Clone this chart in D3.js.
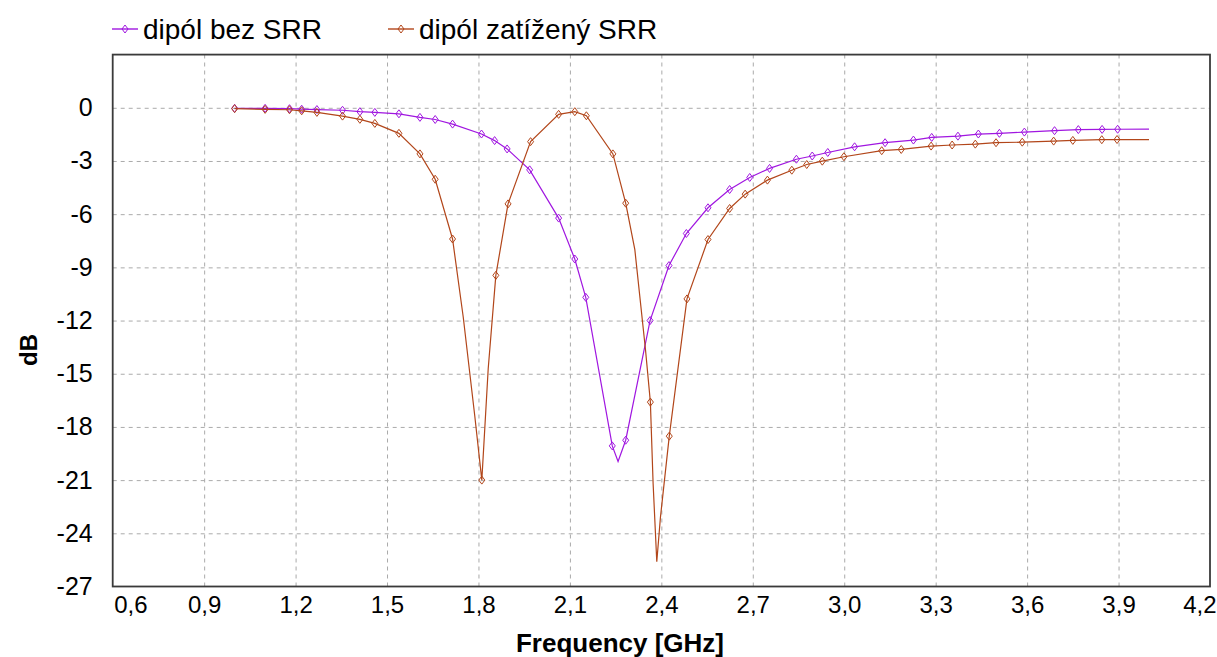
<!DOCTYPE html>
<html>
<head>
<meta charset="utf-8">
<script src="https://cdn.jsdelivr.net/npm/d3@7"></script>
<style>
  body { margin: 0; background: #fff; }
  svg { font-family: "Liberation Sans", Arial, sans-serif; }
</style>
</head>
<body>
<div id="chart"></div>
<script>
// series: dipól bez SRR
const freqBez = [1.00, 1.10, 1.18, 1.22, 1.27, 1.354, 1.411, 1.46, 1.539, 1.608, 1.658, 1.715,
    1.81, 1.853, 1.894, 1.968, 2.063, 2.116, 2.152, 2.239, 2.258, 2.283, 2.363, 2.425, 2.482,
    2.553, 2.624, 2.69, 2.755, 2.843, 2.895, 2.946, 3.034, 3.134, 3.227, 3.287, 3.373, 3.44,
    3.509, 3.591, 3.69, 3.768, 3.846, 3.897, 4.0];
const dbBez = [-0.03, -0.03, -0.05, -0.08, -0.10, -0.14, -0.22, -0.26, -0.34, -0.54, -0.66, -0.92,
    -1.48, -1.85, -2.32, -3.5, -6.22, -8.53, -10.69, -19.07, -19.95, -18.75, -12.0, -8.9, -7.09,
    -5.64, -4.61, -3.93, -3.42, -2.9, -2.72, -2.52, -2.2, -1.97, -1.82, -1.67, -1.6, -1.48,
    -1.44, -1.37, -1.29, -1.23, -1.22, -1.21, -1.2];
const markBez = [1, 1, 1, 1, 1, 1, 1, 1, 1, 1, 1, 1,
    1, 1, 1, 1, 1, 1, 1, 1, 0, 1, 1, 1, 1,
    1, 1, 1, 1, 1, 1, 1, 1, 1, 1, 1, 1, 1,
    1, 1, 1, 1, 1, 1, 0];

// series: dipól zatížený SRR
const freqSrr = [1.00, 1.10, 1.18, 1.22, 1.27, 1.354, 1.411, 1.46, 1.539, 1.608, 1.658, 1.715,
    1.75, 1.788, 1.811, 1.832, 1.857, 1.897, 1.971, 2.063, 2.116, 2.154, 2.241, 2.283, 2.313,
    2.348, 2.364, 2.373, 2.385, 2.397, 2.409, 2.426, 2.484, 2.553, 2.624, 2.675, 2.748, 2.828,
    2.877, 2.928, 2.999, 3.123, 3.187, 3.285, 3.354, 3.43, 3.498, 3.584, 3.687, 3.75, 3.845,
    3.895, 4.0];
const dbSrr = [-0.05, -0.09, -0.11, -0.17, -0.26, -0.47, -0.65, -0.88, -1.44, -2.6, -4.03, -7.4,
    -11.8, -17.4, -21.0, -14.7, -9.45, -5.42, -1.91, -0.37, -0.22, -0.45, -2.6, -5.38, -8.0,
    -13.65, -16.6, -21.2, -25.6, -23.1, -21.2, -18.52, -10.78, -7.43, -5.68, -4.87, -4.08, -3.52,
    -3.2, -3.01, -2.76, -2.42, -2.35, -2.16, -2.1, -2.05, -1.97, -1.94, -1.88, -1.84, -1.8,
    -1.79, -1.8];
const markSrr = [1, 1, 1, 1, 1, 1, 1, 1, 1, 1, 1, 1,
    0, 0, 1, 0, 1, 1, 1, 1, 1, 1, 1, 1, 0,
    0, 1, 0, 0, 0, 0, 1, 1, 1, 1, 1, 1, 1,
    1, 1, 1, 1, 1, 1, 1, 1, 1, 1, 1, 1, 1,
    1, 0];

const seriesNames = ['dipól bez SRR', 'dipól zatížený SRR'];
const seriesColors = ['#a016e0', '#b2461a'];
const xTicks = [0.6, 0.9, 1.2, 1.5, 1.8, 2.1, 2.4, 2.7, 3.0, 3.3, 3.6, 3.9, 4.2];
const yTicks = [0, -3, -6, -9, -12, -15, -18, -21, -24, -27];

const width = 1217;
const height = 657;
const plotLeft = 112.7, plotRight = 1210, plotTop = 54.6, plotBottom = 586.5;

const series = [
    { name: seriesNames[0], color: seriesColors[0],
      data: freqBez.map((f, i) => ({ f, db: dbBez[i], m: markBez[i] })) },
    { name: seriesNames[1], color: seriesColors[1],
      data: freqSrr.map((f, i) => ({ f, db: dbSrr[i], m: markSrr[i] })) }
];

const xScale = d3.scaleLinear().domain([0.6, 4.2]).range([plotLeft, plotRight]);
const yScale = d3.scaleLinear().domain([-27, 3]).range([plotBottom, plotTop]);

const svg = d3.select('#chart')
    .append('svg')
    .attr('width', width)
    .attr('height', height);

// grid
svg.append('g')
    .attr('transform', `translate(0, ${plotBottom})`)
    .call(d3.axisBottom(xScale).tickValues(xTicks.slice(1, -1)).tickSize(-(plotBottom - plotTop)).tickFormat(''))
    .call(g => g.select('.domain').remove())
    .selectAll('line')
    .attr('stroke', '#aaa')
    .attr('stroke-dasharray', '4,4');

svg.append('g')
    .attr('transform', `translate(${plotLeft}, 0)`)
    .call(d3.axisLeft(yScale).tickValues(yTicks.slice(0, -1)).tickSize(-(plotRight - plotLeft)).tickFormat(''))
    .call(g => g.select('.domain').remove())
    .selectAll('line')
    .attr('stroke', '#aaa')
    .attr('stroke-dasharray', '4,4');

// tick labels
const xLabels = svg.append('g')
    .attr('transform', `translate(0, ${plotBottom})`)
    .call(d3.axisBottom(xScale).tickValues(xTicks).tickSize(0).tickPadding(9)
        .tickFormat(d => d.toFixed(1).replace('.', ',')))
    .call(g => g.select('.domain').remove());
xLabels.selectAll('text')
    .attr('font-size', 24)
    .attr('font-family', '"Liberation Sans", Arial, sans-serif')
    .attr('fill', '#000');
// end labels kept inside the frame / picture
xLabels.selectAll('.tick').filter(d => d === 0.6).select('text')
    .attr('text-anchor', 'start')
    .attr('x', 1);
xLabels.selectAll('.tick').filter(d => d === 4.2).select('text')
    .attr('text-anchor', 'end')
    .attr('x', 6);

svg.append('g')
    .attr('transform', `translate(${plotLeft}, 0)`)
    .call(d3.axisLeft(yScale).tickValues(yTicks).tickSize(0).tickPadding(20)
        .tickFormat(d => String(d)))
    .call(g => g.select('.domain').remove())
    .selectAll('text')
    .attr('font-size', 25)
    .attr('font-family', '"Liberation Sans", Arial, sans-serif')
    .attr('fill', '#000');

// frame
svg.append('rect')
    .attr('x', plotLeft)
    .attr('y', plotTop)
    .attr('width', plotRight - plotLeft)
    .attr('height', plotBottom - plotTop)
    .attr('fill', 'none')
    .attr('stroke', '#3a3a3a')
    .attr('stroke-width', 1.8);

// axis titles
svg.append('text')
    .attr('x', 620)
    .attr('y', 652)
    .attr('text-anchor', 'middle')
    .attr('font-size', 26)
    .attr('font-weight', 'bold')
    .text('Frequency [GHz]');

svg.append('text')
    .attr('transform', 'translate(37, 350) rotate(-90)')
    .attr('text-anchor', 'middle')
    .attr('font-size', 24)
    .attr('font-weight', 'bold')
    .text('dB');

const diamond = 'M0,-4L3,0L0,4L-3,0Z';

const plotLine = d3.line()
    .x(d => xScale(d.f))
    .y(d => yScale(d.db));

series.forEach(s => {
    svg.append('path')
        .datum(s.data)
        .attr('fill', 'none')
        .attr('stroke', s.color)
        .attr('stroke-width', 1.2)
        .attr('d', plotLine);

    svg.append('g')
        .selectAll('path')
        .data(s.data.filter(d => d.m))
        .join('path')
        .attr('transform', d => `translate(${xScale(d.f)}, ${yScale(d.db)})`)
        .attr('d', diamond)
        .attr('fill', 'none')
        .attr('stroke', s.color)
        .attr('stroke-width', 1);
});

// legend
const legendX = [112, 388];
series.forEach((s, i) => {
    const g = svg.append('g').attr('transform', `translate(${legendX[i]}, 29)`);
    g.append('line')
        .attr('x1', 0).attr('x2', 26)
        .attr('stroke', s.color)
        .attr('stroke-width', 1.4);
    g.append('path')
        .attr('transform', 'translate(13, 0)')
        .attr('d', diamond)
        .attr('fill', 'none')
        .attr('stroke', s.color);
    g.append('text')
        .attr('x', 31)
        .attr('y', 10)
        .attr('font-size', 28)
        .text(s.name);
});
</script>
</body>
</html>
